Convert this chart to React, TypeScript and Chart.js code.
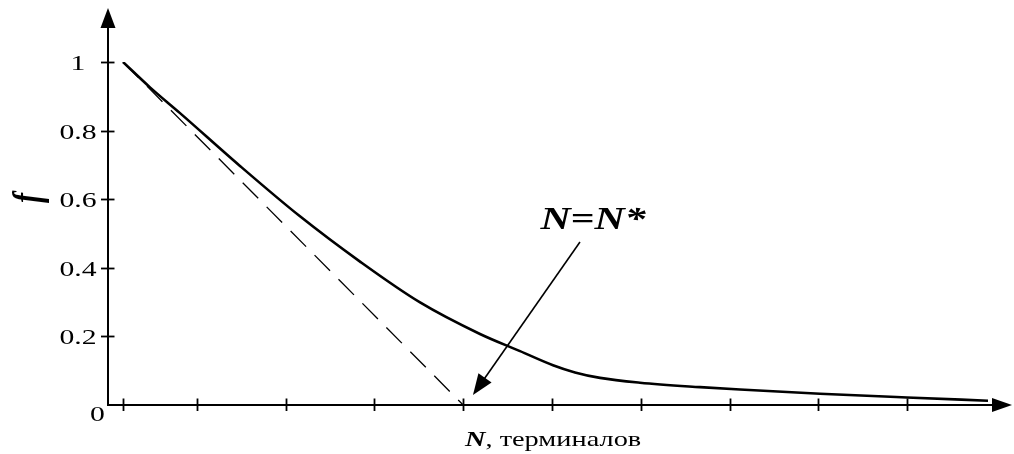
import React, { useEffect, useRef } from "react";
import { Chart, registerables } from "chart.js";

Chart.register(...registerables);

// Curve: share f versus number of terminals N (axis units = tick steps)
const N_VALUES = [0.169, 0.473, 0.811, 1.486, 2.162, 2.838, 3.514, 4.189, 4.64, 5.011, 5.259, 5.541, 5.991, 6.667, 7.117, 8.018, 8.998, 9.91];
const F_VALUES = [1.0, 0.926, 0.851, 0.697, 0.55, 0.418, 0.299, 0.207, 0.157, 0.116, 0.095, 0.079, 0.065, 0.052, 0.045, 0.033, 0.022, 0.0125];

// Dashed tangent line from the start point to N = N*
const TANGENT_N = [0.169, 4];
const TANGENT_F = [1, 0];

// Annotation arrow "N=N*" (tail -> tip), in data units
const ARROW_N = [5.315, 4.11];
const ARROW_F = [0.475, 0.029];
const ANNOTATION_TEXT = "N=N*";

const X_TICKS = [0.169, 1, 2, 3, 4, 5, 6, 7, 8, 9];
const Y_TICKS = [0.2, 0.4, 0.6, 0.8, 1];
const Y_TICK_LABELS = ["0.2", "0.4", "0.6", "0.8", "1"];
const ORIGIN_LABEL = "0";
const X_TITLE_BOLD = "N";
const X_TITLE_REST = ", терминалов";
const Y_TITLE = "f";

const SERIF = '"Liberation Serif", "Times New Roman", serif';
const SX = 1.35; // horizontal stretch of the original figure's text

function stretchedText(ctx: CanvasRenderingContext2D, text: string, x: number, y: number, font: string, align: CanvasTextAlign) {
  ctx.save();
  ctx.font = font;
  ctx.textAlign = align;
  ctx.textBaseline = "alphabetic";
  ctx.translate(x, y);
  ctx.scale(SX, 1);
  ctx.fillText(text, 0, 0);
  ctx.restore();
}

function arrowHead(ctx: CanvasRenderingContext2D, tipX: number, tipY: number, angle: number, len: number, half: number) {
  ctx.save();
  ctx.translate(tipX, tipY);
  ctx.rotate(angle);
  ctx.beginPath();
  ctx.moveTo(0, 0);
  ctx.lineTo(-len, -half);
  ctx.lineTo(-len, half);
  ctx.closePath();
  ctx.fill();
  ctx.restore();
}

const axesPlugin = {
  id: "axesPlugin",
  afterDraw(chart: any) {
    const ctx: CanvasRenderingContext2D = chart.ctx;
    const xs = chart.scales.x;
    const ys = chart.scales.y;
    const x0 = xs.getPixelForValue(0);
    const y0 = ys.getPixelForValue(0);
    ctx.save();
    ctx.strokeStyle = "#000";
    ctx.fillStyle = "#000";
    ctx.lineWidth = 2;

    // y axis
    const yTop = 8;
    ctx.beginPath();
    ctx.moveTo(x0, y0 + 1);
    ctx.lineTo(x0, yTop + 16);
    ctx.stroke();
    arrowHead(ctx, x0, yTop, -Math.PI / 2, 20, 7.5);

    // x axis
    const xRight = 1012;
    ctx.beginPath();
    ctx.moveTo(x0 - 1, y0);
    ctx.lineTo(xRight - 16, y0);
    ctx.stroke();
    arrowHead(ctx, xRight, y0, 0, 20, 7);

    // ticks
    ctx.lineWidth = 1.8;
    X_TICKS.forEach((v) => {
      const px = Math.round(xs.getPixelForValue(v)) + 0.5;
      ctx.beginPath();
      ctx.moveTo(px, y0 - 6.5);
      ctx.lineTo(px, y0 + 6);
      ctx.stroke();
    });
    Y_TICKS.forEach((v, i) => {
      const py = Math.round(ys.getPixelForValue(v)) + 0.5;
      ctx.beginPath();
      ctx.moveTo(x0 - 7, py);
      ctx.lineTo(x0 + 6.5, py);
      ctx.stroke();
      stretchedText(ctx, Y_TICK_LABELS[i], 78, py + 7.5, `22px ${SERIF}`, "center");
    });
    stretchedText(ctx, ORIGIN_LABEL, 97.5, y0 + 16, `22px ${SERIF}`, "center");

    // x title
    ctx.save();
    ctx.font = `bold italic 21px ${SERIF}`;
    const nW = ctx.measureText(X_TITLE_BOLD).width * SX;
    ctx.restore();
    stretchedText(ctx, X_TITLE_BOLD, 465, 446, `bold italic 21px ${SERIF}`, "left");
    stretchedText(ctx, X_TITLE_REST, 465 + nW, 446, `21px ${SERIF}`, "left");

    // y title (rotated)
    ctx.save();
    ctx.translate(30, 198);
    ctx.scale(SX, 1);
    ctx.rotate(-Math.PI / 2);
    ctx.font = `bold italic 30px ${SERIF}`;
    ctx.textAlign = "center";
    ctx.textBaseline = "middle";
    ctx.fillText(Y_TITLE, 0, 0);
    ctx.restore();

    // annotation arrow
    const ax1 = xs.getPixelForValue(ARROW_N[0]);
    const ay1 = ys.getPixelForValue(ARROW_F[0]);
    const ax2 = xs.getPixelForValue(ARROW_N[1]);
    const ay2 = ys.getPixelForValue(ARROW_F[1]);
    const ang = Math.atan2(ay2 - ay1, ax2 - ax1);
    ctx.lineWidth = 1.6;
    ctx.beginPath();
    ctx.moveTo(ax1, ay1);
    ctx.lineTo(ax2 - Math.cos(ang) * 15, ay2 - Math.sin(ang) * 15);
    ctx.stroke();
    arrowHead(ctx, ax2, ay2, ang, 21, 8);

    stretchedText(ctx, ANNOTATION_TEXT, 593, 229, `bold italic 31px ${SERIF}`, "center");
    ctx.restore();
  },
};

export default function App() {
  const ref = useRef<HTMLCanvasElement | null>(null);
  useEffect(() => {
    if (!ref.current) return;
    const chart = new Chart(ref.current, {
      type: "line",
      data: {
        datasets: [
          {
            data: N_VALUES.map((n, i) => ({ x: n, y: F_VALUES[i] })),
            borderColor: "#000",
            borderWidth: 2.6,
            pointRadius: 0,
            cubicInterpolationMode: "monotone",
            fill: false,
          },
          {
            data: TANGENT_N.map((n, i) => ({ x: n, y: TANGENT_F[i] })),
            borderColor: "#000",
            borderWidth: 1.3,
            borderDash: [22, 12],
            pointRadius: 0,
            fill: false,
          },
        ],
      },
      options: {
        animation: false,
        responsive: false,
        devicePixelRatio: 1,
        layout: { padding: { left: 108, right: 18, top: 62, bottom: 49 } },
        plugins: { legend: { display: false }, tooltip: { enabled: false } },
        scales: {
          x: { type: "linear", min: 0, max: 10, display: false },
          y: { type: "linear", min: 0, max: 1, display: false },
        },
      },
      plugins: [axesPlugin],
    });
    return () => chart.destroy();
  }, []);
  return (
    <div style={{ position: "fixed", left: 0, top: 0, width: 1014, height: 454, background: "#fff" }}>
      <canvas ref={ref} width={1014} height={454} style={{ display: "block" }} />
    </div>
  );
}
